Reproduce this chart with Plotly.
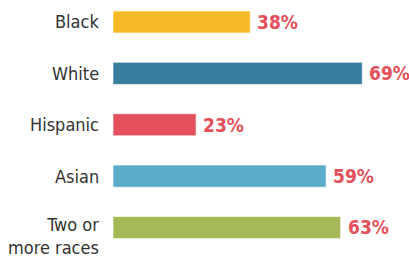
import plotly.graph_objects as go

categories = ["Black", "White", "Hispanic", "Asian", "Two or<br>more races"]
values = [38, 69, 23, 59, 63]
labels = ["38%", "69%", "23%", "59%", "63%"]
colors = ["#F6BA26", "#377D9D", "#E34F5A", "#5BACC9", "#A5BA57"]

FONT = "DejaVu Sans Condensed, Liberation Sans Narrow, Arial Narrow, sans-serif"

fig = go.Figure()
fig.add_trace(go.Bar(
    x=values, y=categories, orientation="h",
    marker=dict(color=colors, line=dict(color="rgba(255,255,255,0.6)", width=1)),
    hoverinfo="skip",
))

for c, v, t in zip(categories, values, labels):
    fig.add_annotation(
        x=v, y=c, text=t, showarrow=False, xanchor="left", yanchor="middle",
        xshift=5, font=dict(family=FONT, size=19, color="#E34F5A", weight="bold"),
    )
    multi = "<br>" in c
    fig.add_annotation(
        x=0, y=c, text=c, showarrow=False, xanchor="right", align="right",
        yanchor="top" if multi else "middle", yshift=15 if multi else 0,
        xshift=-12, font=dict(family=FONT, size=18, color="#333333"),
    )

fig.update_layout(
    width=409, height=258,
    margin=dict(l=113, r=7, t=0, b=0),
    paper_bgcolor="white", plot_bgcolor="white",
    bargap=0.57,
    showlegend=False,
    hovermode=False,
    xaxis=dict(range=[0, 80], visible=False, automargin=False, fixedrange=True),
    yaxis=dict(
        type="category", range=[4.594, -0.428], fixedrange=True,
        showgrid=False, zeroline=False, showline=False, automargin=False,
        ticks="", showticklabels=False,
    ),
)

fig.write_html(
    "out.html",
    config={"displayModeBar": False, "staticPlot": True},
    post_script="document.body.style.margin='0';document.body.style.padding='0';",
)
